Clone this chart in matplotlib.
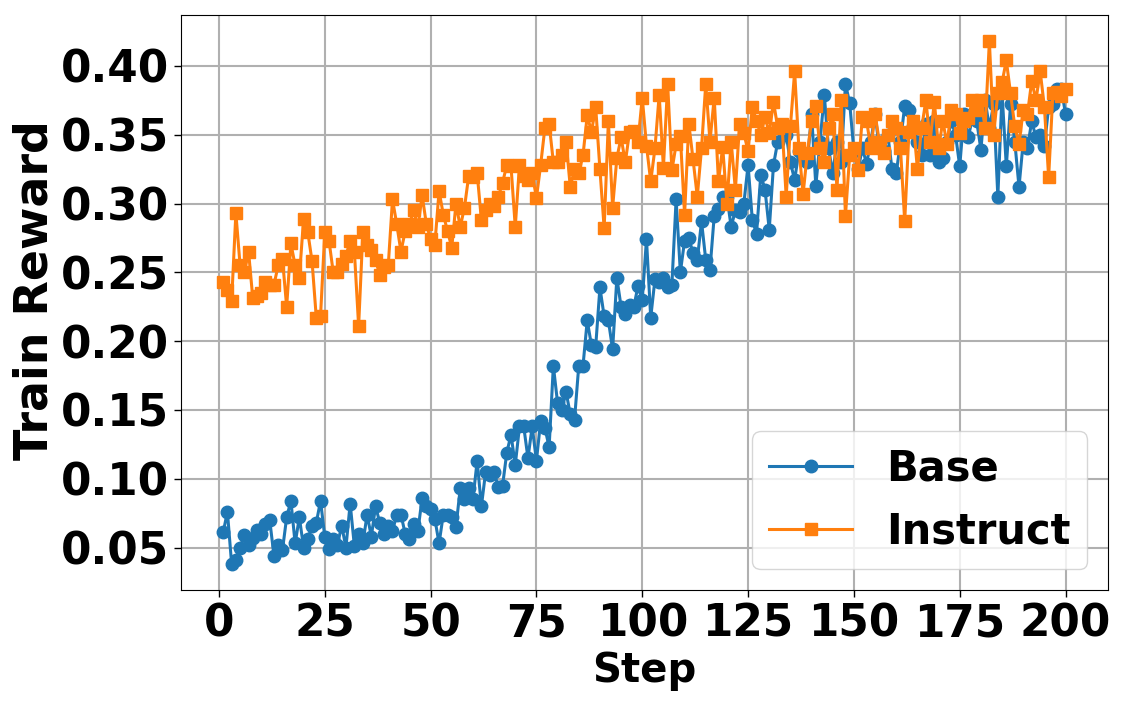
import numpy as np
import matplotlib
matplotlib.use('Agg')
import matplotlib.pyplot as plt

# Data
steps = np.arange(1, 201)

base_reward = [
    0.061, 0.076, 0.038, 0.041, 0.050, 0.059, 0.052, 0.057, 0.063, 0.060,
    0.067, 0.070, 0.044, 0.052, 0.048, 0.072, 0.084, 0.053, 0.072, 0.050,
    0.056, 0.066, 0.068, 0.084, 0.058, 0.049, 0.056, 0.052, 0.066, 0.050,
    0.082, 0.051, 0.060, 0.053, 0.074, 0.058, 0.080, 0.068, 0.060, 0.066,
    0.062, 0.074, 0.074, 0.060, 0.056, 0.067, 0.062, 0.086, 0.080, 0.078,
    0.071, 0.053, 0.074, 0.074, 0.072, 0.065, 0.093, 0.085, 0.093, 0.085,
    0.113, 0.080, 0.105, 0.103, 0.105, 0.094, 0.095, 0.119, 0.132, 0.110,
    0.138, 0.138, 0.115, 0.138, 0.113, 0.142, 0.137, 0.123, 0.182, 0.155,
    0.150, 0.163, 0.147, 0.143, 0.182, 0.182, 0.215, 0.197, 0.196, 0.239,
    0.218, 0.215, 0.194, 0.246, 0.225, 0.220, 0.226, 0.225, 0.240, 0.230,
    0.274, 0.217, 0.245, 0.243, 0.246, 0.239, 0.241, 0.303, 0.250, 0.273,
    0.275, 0.264, 0.259, 0.287, 0.259, 0.252, 0.291, 0.296, 0.305, 0.305,
    0.283, 0.295, 0.294, 0.300, 0.328, 0.288, 0.278, 0.321, 0.310, 0.281,
    0.328, 0.345, 0.355, 0.350, 0.330, 0.317, 0.338, 0.335, 0.330, 0.365,
    0.313, 0.345, 0.379, 0.340, 0.322, 0.345, 0.330, 0.387, 0.373, 0.338,
    0.325, 0.340, 0.329, 0.345, 0.365, 0.340, 0.338, 0.350, 0.325, 0.322,
    0.345, 0.371, 0.368, 0.356, 0.345, 0.335, 0.358, 0.335, 0.360, 0.330,
    0.333, 0.345, 0.360, 0.350, 0.327, 0.365, 0.348, 0.362, 0.360, 0.339,
    0.375, 0.355, 0.372, 0.305, 0.380, 0.327, 0.372, 0.345, 0.312, 0.345,
    0.340, 0.360, 0.348, 0.350, 0.342, 0.370, 0.372, 0.383, 0.383, 0.365,
]

instruct_reward = [
    0.243, 0.237, 0.229, 0.293, 0.255, 0.250, 0.265, 0.231, 0.233, 0.235,
    0.243, 0.241, 0.241, 0.255, 0.260, 0.225, 0.271, 0.255, 0.246, 0.289,
    0.279, 0.258, 0.217, 0.218, 0.279, 0.273, 0.250, 0.250, 0.256, 0.262,
    0.273, 0.265, 0.211, 0.279, 0.270, 0.266, 0.259, 0.248, 0.254, 0.255,
    0.303, 0.285, 0.265, 0.280, 0.285, 0.295, 0.283, 0.306, 0.285, 0.274,
    0.270, 0.309, 0.292, 0.280, 0.268, 0.300, 0.283, 0.297, 0.320, 0.319,
    0.322, 0.288, 0.295, 0.300, 0.298, 0.305, 0.315, 0.328, 0.327, 0.283,
    0.328, 0.320, 0.317, 0.322, 0.304, 0.328, 0.355, 0.358, 0.330, 0.330,
    0.335, 0.345, 0.312, 0.325, 0.322, 0.335, 0.364, 0.352, 0.370, 0.325,
    0.282, 0.360, 0.297, 0.333, 0.348, 0.330, 0.352, 0.353, 0.345, 0.377,
    0.342, 0.316, 0.340, 0.379, 0.326, 0.387, 0.324, 0.343, 0.349, 0.292,
    0.358, 0.332, 0.305, 0.340, 0.387, 0.345, 0.377, 0.316, 0.341, 0.300,
    0.345, 0.310, 0.358, 0.351, 0.338, 0.370, 0.360, 0.350, 0.363, 0.351,
    0.374, 0.355, 0.358, 0.305, 0.356, 0.396, 0.340, 0.307, 0.337, 0.360,
    0.371, 0.340, 0.330, 0.355, 0.365, 0.310, 0.375, 0.291, 0.335, 0.340,
    0.324, 0.363, 0.360, 0.340, 0.365, 0.345, 0.337, 0.350, 0.360, 0.355,
    0.340, 0.287, 0.352, 0.360, 0.325, 0.355, 0.375, 0.345, 0.374, 0.340,
    0.360, 0.343, 0.368, 0.365, 0.351, 0.360, 0.362, 0.375, 0.368, 0.375,
    0.355, 0.418, 0.350, 0.380, 0.388, 0.404, 0.380, 0.356, 0.343, 0.368,
    0.365, 0.389, 0.375, 0.396, 0.370, 0.319, 0.380, 0.381, 0.378, 0.383,
]

x_ticks = [0, 25, 50, 75, 100, 125, 150, 175, 200]
y_ticks = [0.05, 0.10, 0.15, 0.20, 0.25, 0.30, 0.35, 0.40]

fig = plt.figure(figsize=(11.28, 7.12), dpi=100)
ax = fig.add_axes([0.1605, 0.171, 0.8215, 0.808])

ax.plot(steps, base_reward, color='#1f77b4', marker='o', markersize=9,
        linewidth=2.2, label='Base')
ax.plot(steps, instruct_reward, color='#ff7f0e', marker='s', markersize=9,
        linewidth=2.2, label='Instruct')

ax.set_xticks(x_ticks)
ax.set_yticks(y_ticks)
ax.set_yticklabels([f'{v:.2f}' for v in y_ticks])
ax.tick_params(axis='both', labelsize=31.5, width=1.0, length=5)
for lbl in ax.get_xticklabels() + ax.get_yticklabels():
    lbl.set_fontweight('bold')

ax.set_xlabel('Step', fontsize=29, fontweight='bold', labelpad=4)
ax.set_ylabel('Train Reward', fontsize=33, fontweight='bold')
ax.yaxis.set_label_coords(-0.133, 0.522)
ax.grid(True, color='#b0b0b0', linewidth=1.5)

ax.legend(loc='lower right', prop={'size': 30, 'weight': 'bold'})

fig.savefig('out.png', dpi=100)
